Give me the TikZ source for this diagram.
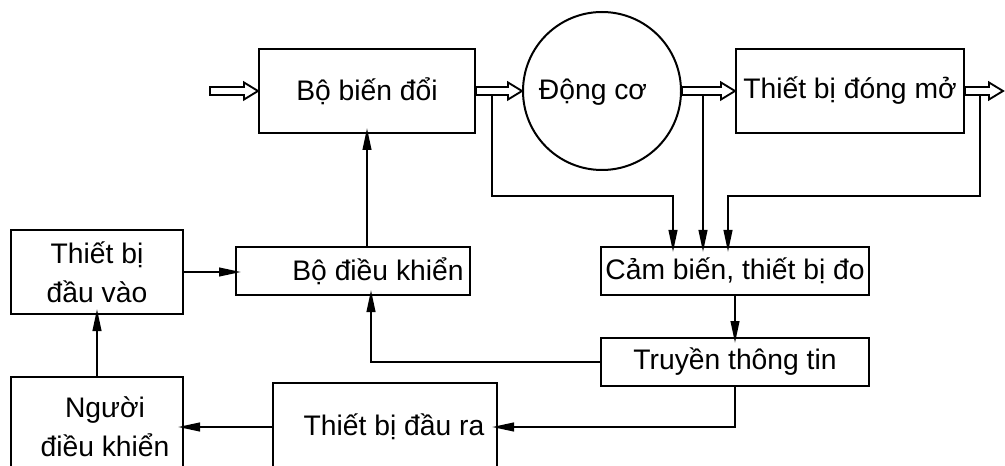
\documentclass[tikz,border=0pt]{standalone}
\usepackage{fontspec}
\setmainfont{Liberation Sans}
\usetikzlibrary{arrows.meta,calc}

% outlined (hollow) power-flow arrow between two points on the same level
\newcommand{\hollowarrow}[2]{%
  \draw[hollow] ($(#1)+(0,-4)$) -- ($(#2)+(-14,-4)$) -- ($(#2)+(-14,-8.5)$)
    -- (#2) -- ($(#2)+(-14,8.5)$) -- ($(#2)+(-14,4)$) -- ($(#1)+(0,4)$) -- cycle;}

\begin{document}
\begin{tikzpicture}[x=0.75pt,y=-0.75pt,
  box/.style={draw, line width=1.5pt, rectangle, inner sep=0pt,
    font=\fontsize{21.2}{29}\selectfont, align=center},
  lbl/.style={inner sep=0pt, font=\fontsize{21.2}{29}\selectfont, align=center},
  flow/.style={draw, line width=1.5pt, -{Triangle[length=16.5pt,width=6.5pt]},
    shorten >=-4.5pt},
  hollow/.style={draw, line width=1.4pt, line join=miter, fill=white},
]
\useasboundingbox (0,0) rectangle (1005,466);
\clip (0,0) rectangle (1005,466);

% power chain
\node[box, minimum width=162pt, minimum height=63pt] (bd) at (367,91) {Bộ biến đổi};
\node[draw, circle, line width=1.5pt, inner sep=0pt, minimum size=118.5pt] (dc) at (602,91) {};
\node[lbl] (dctext) at (593,92) {Động cơ};
\node[box, minimum width=171pt, minimum height=63pt] (tb) at (850,91) {Thiết bị đóng mở};

% measurement and control
\node[box, minimum width=201pt, minimum height=36pt] (cb) at (735,271) {Cảm biến, thiết bị đo};
\node[box, minimum width=201pt, minimum height=36pt] (tt) at (735,362) {Truyền thông tin};
\node[box, minimum width=175.5pt, minimum height=36pt] (dk) at (353,271) {};
\node[lbl] (dktext) at (378,271) {Bộ điều khiển};
\node[box, minimum width=129pt, minimum height=63pt] (vao) at (97,272) {Thiết bị\\đầu vào};
\node[box, minimum width=129pt, minimum height=75pt] (ndk) at (97,427) {};
\node[lbl] (ndktext) at (105,427) {Người\\điều khiển};
\node[box, minimum width=168pt, minimum height=66pt] (ra) at (385,427) {};
\node[lbl] (ratext) at (394,427) {Thiết bị đầu ra};

% hollow power arrows
\coordinate (in0) at (210,91);
\coordinate (out0) at (1003,91);
\hollowarrow{in0}{bd.west}
\hollowarrow{bd.east}{dc.west}
\hollowarrow{dc.east}{tb.west}
\hollowarrow{tb.east}{out0}

% taps feeding the sensors
\coordinate (tap1) at (492,95);
\coordinate (tap2) at (703,95);
\coordinate (tap3) at (980,95);
\coordinate (bus) at (0,196);
\coordinate (x1) at (673,0);
\coordinate (x3) at (728,0);
\draw[flow] (tap1) |- (bus -| x1) -- (x1 |- cb.north);
\draw[flow] (tap2) -- (tap2 |- cb.north);
\draw[flow] (tap3) |- (bus -| x3) -- (x3 |- cb.north);

% signal paths
\coordinate (fb) at (371,0);
\coordinate (up) at (367,0);
\draw[flow] (cb.south) -- (tt.north);
\draw[flow] (tt.west) -| (fb |- dk.south);
\draw[flow] (up |- dk.north) -- (up |- bd.south);
\draw[flow] (vao.east) -- (vao.east -| dk.west);
\draw[flow] (ndk.north) -- (vao.south);
\draw[flow] (tt.south) |- (ra.east);
\draw[flow] (ra.west) -- (ndk.east);
\end{tikzpicture}
\end{document}
